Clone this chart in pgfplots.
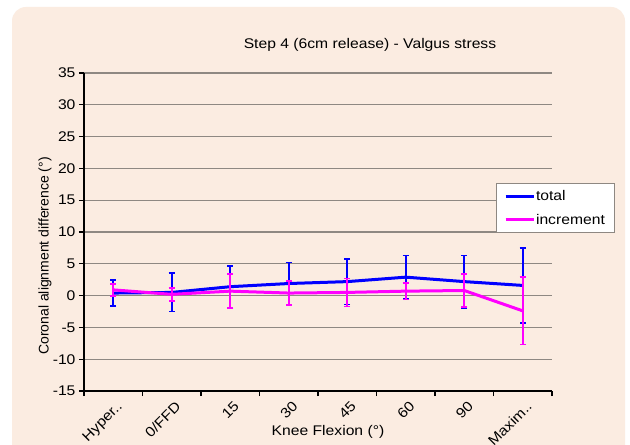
\documentclass[border=0pt]{standalone}
\usepackage{pgfplots}
\pgfplotsset{compat=1.18}
\usepackage{fontspec}
\setmainfont[FakeStretch=1.12]{Liberation Sans}
\newfontfamily\plainsans{Liberation Sans}
\definecolor{peach}{HTML}{FBECE1}
\definecolor{gridgray}{HTML}{8E8882}
\definecolor{mblue}{HTML}{0000FF}
\definecolor{mmag}{HTML}{FF00FF}
\begin{document}
\begin{tikzpicture}
\useasboundingbox (0pt,0pt) rectangle (630pt,445pt);
\fill[white] (0pt,0pt) rectangle (630pt,445pt);
\fill[peach, rounded corners=14pt] (12pt,-20pt) rectangle (625pt,438pt);
\begin{axis}[
  at={(84pt,54pt)}, anchor=south west,
  scale only axis, width=468pt, height=318pt,
  xmin=-0.5, xmax=7.5, ymin=-15, ymax=35,
  ytick={-15,-10,...,35},
  ymajorgrids, grid style={gridgray, line width=1.2pt},
  axis x line*=bottom, axis y line*=left,
  axis line style={black, line width=1.2pt, -},
  xtick={0,...,7},
  xticklabels={Hyper..,0/FFD,15,30,45,60,90,Maxim..},
  x tick label style={rotate=45, anchor=north east, inner sep=1pt, yshift=-4pt},
  major x tick style={draw=none},
  minor xtick={-0.5,0.5,...,7.5},
  tick align=outside, major tick length=5pt, minor tick length=5pt,
  tick style={black, line width=1.2pt},
  ticklabel style={font=\fontsize{14}{16}\selectfont},
  /pgf/number format/assume math mode=true,
  legend style={at={(0.880,0.654)}, anchor=north west, draw=gridgray, fill=white,
    font=\fontsize{14}{16}\selectfont, row sep=8pt, inner xsep=8pt, inner ysep=5pt,
    nodes={inner xsep=1pt}},
  legend cell align=left,
  legend image code/.code={\draw[#1, line width=3pt] (0pt,0pt) -- (28pt,0pt);},
]
\addplot[mblue, line width=3pt, no markers,
  error bars/.cd, y dir=both, y explicit,
  error bar style={line width=1.8pt, mblue},
  error mark options={rotate=90, mark size=3pt, line width=1.8pt, mblue}]
  table[x=x, y=y, y error=e] {
x y e
0 0.4 2.0
1 0.5 3.0
2 1.4 3.3
3 1.9 3.3
4 2.2 3.6
5 2.9 3.4
6 2.2 4.1
7 1.6 5.9
};
\addlegendentry{total}
\addplot[mmag, line width=3pt, no markers,
  error bars/.cd, y dir=both, y explicit,
  error bar style={line width=1.8pt, mmag},
  error mark options={rotate=90, mark size=3pt, line width=1.8pt, mmag}]
  table[x=x, y=y, y error=e] {
x y e
0 0.9 0.9
1 0.2 1.0
2 0.7 2.7
3 0.4 1.9
4 0.5 2.2
5 0.7 1.3
6 0.8 2.6
7 -2.4 5.3
};
\addlegendentry{increment}
\end{axis}
\node[font=\fontsize{14}{16}\selectfont] at (370pt,400pt) {Step 4 (6cm release) - Valgus stress};
\node[font=\fontsize{14}{16}\selectfont] at (328pt,13pt) {Knee Flexion (°)};
\node[font=\plainsans\fontsize{14}{16}\selectfont, rotate=90] at (45pt,189pt) {Coronal alignment difference (°)};
\end{tikzpicture}
\end{document}
